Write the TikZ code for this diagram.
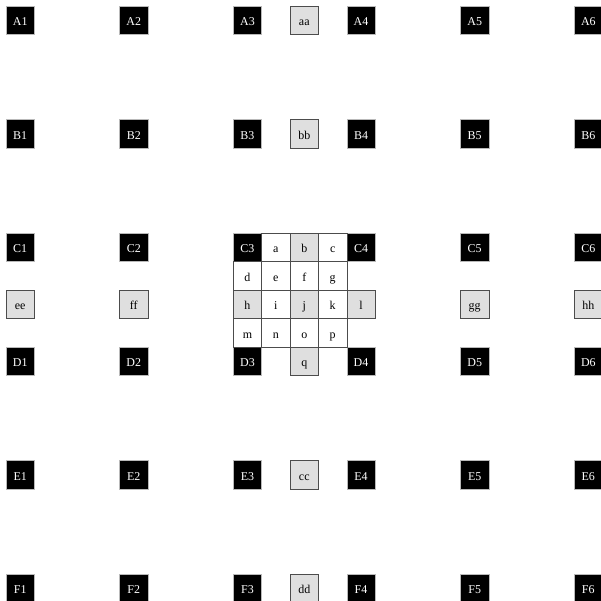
\documentclass[tikz,border=0pt]{standalone}
\usepackage{fontspec}
\setmainfont{Liberation Serif}
\usetikzlibrary{positioning}

\tikzset{
  cell/.style={rectangle,minimum size=0.75cm,inner sep=0pt,outer sep=0pt,font=\small,
    text height=2ex,text depth=0.25ex},
  corner/.style={cell,fill=black,draw=gray!55,text=white},
  pale/.style={cell,fill=gray!25,draw=black!70},
  plain/.style={cell,fill=white,draw=black!70}
}

\begin{document}
\begin{tikzpicture}
\useasboundingbox (-0.533,0.533) rectangle (15.311,-15.335);
% corner blocks
\node[corner] (A1) at (0,0) {A1};
\node[corner] (A2) at (3,0) {A2};
\node[corner] (A3) at (6,0) {A3};
\node[corner] (A4) at (9,0) {A4};
\node[corner] (A5) at (12,0) {A5};
\node[corner] (A6) at (15,0) {A6};
\node[corner] (B1) at (0,-3) {B1};
\node[corner] (B2) at (3,-3) {B2};
\node[corner] (B3) at (6,-3) {B3};
\node[corner] (B4) at (9,-3) {B4};
\node[corner] (B5) at (12,-3) {B5};
\node[corner] (B6) at (15,-3) {B6};
\node[corner] (C1) at (0,-6) {C1};
\node[corner] (C2) at (3,-6) {C2};
\node[corner] (C3) at (6,-6) {C3};
\node[corner] (C4) at (9,-6) {C4};
\node[corner] (C5) at (12,-6) {C5};
\node[corner] (C6) at (15,-6) {C6};
\node[corner] (D1) at (0,-9) {D1};
\node[corner] (D2) at (3,-9) {D2};
\node[corner] (D3) at (6,-9) {D3};
\node[corner] (D4) at (9,-9) {D4};
\node[corner] (D5) at (12,-9) {D5};
\node[corner] (D6) at (15,-9) {D6};
\node[corner] (E1) at (0,-12) {E1};
\node[corner] (E2) at (3,-12) {E2};
\node[corner] (E3) at (6,-12) {E3};
\node[corner] (E4) at (9,-12) {E4};
\node[corner] (E5) at (12,-12) {E5};
\node[corner] (E6) at (15,-12) {E6};
\node[corner] (F1) at (0,-15) {F1};
\node[corner] (F2) at (3,-15) {F2};
\node[corner] (F3) at (6,-15) {F3};
\node[corner] (F4) at (9,-15) {F4};
\node[corner] (F5) at (12,-15) {F5};
\node[corner] (F6) at (15,-15) {F6};

% edge midpoints
\node[pale] (aa) at (7.5,0) {aa};
\node[pale] (bb) at (7.5,-3) {bb};
\node[pale] (cc) at (7.5,-12) {cc};
\node[pale] (dd) at (7.5,-15) {dd};
\node[pale] (ee) at (0,-7.5) {ee};
\node[pale] (ff) at (3,-7.5) {ff};
\node[pale] (gg) at (12,-7.5) {gg};
\node[pale] (hh) at (15,-7.5) {hh};

% centre block
\node[plain] (a) at (6.75,-6) {a};
\node[pale]  (b) at (7.5,-6) {b};
\node[plain] (c) at (8.25,-6) {c};
\node[plain] (d) at (6,-6.75) {d};
\node[plain] (e) at (6.75,-6.75) {e};
\node[plain] (f) at (7.5,-6.75) {f};
\node[plain] (g) at (8.25,-6.75) {g};
\node[pale]  (h) at (6,-7.5) {h};
\node[plain] (i) at (6.75,-7.5) {i};
\node[pale]  (j) at (7.5,-7.5) {j};
\node[plain] (k) at (8.25,-7.5) {k};
\node[pale]  (l) at (9,-7.5) {l};
\node[plain] (m) at (6,-8.25) {m};
\node[plain] (n) at (6.75,-8.25) {n};
\node[plain] (o) at (7.5,-8.25) {o};
\node[plain] (p) at (8.25,-8.25) {p};
\node[pale]  (q) at (7.5,-9) {q};
\end{tikzpicture}
\end{document}
